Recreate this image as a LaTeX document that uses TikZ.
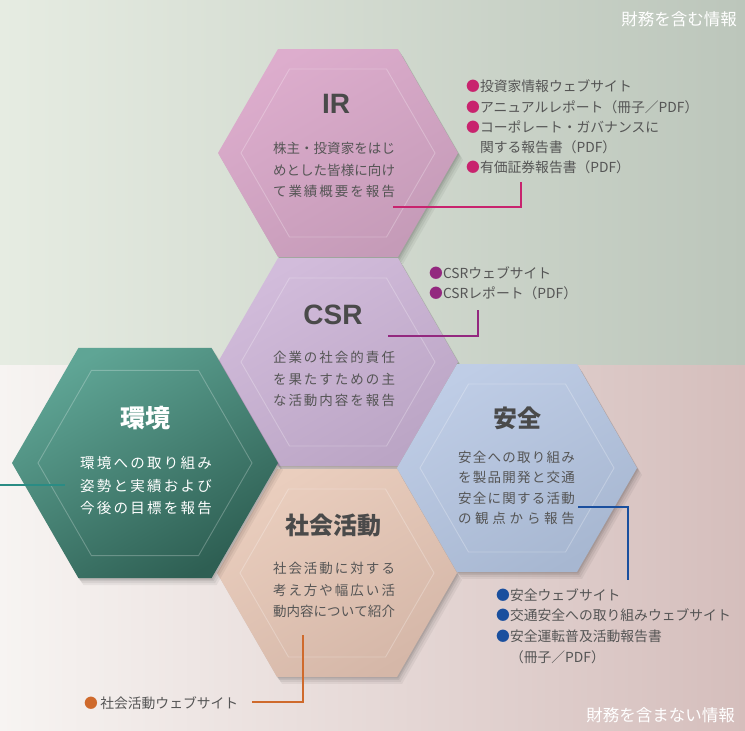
\documentclass[tikz,border=0pt]{standalone}
\usepackage{fontspec}
\setmainfont{Noto Sans CJK JP}
\newfontfamily\latinb{Liberation Sans}
\usetikzlibrary{shapes.geometric}
\definecolor{ttxt}{HTML}{4A4A4A}
\definecolor{dtxt}{HTML}{555555}
\definecolor{irA}{HTML}{DDADCD}
\definecolor{irB}{HTML}{C59BB8}
\definecolor{csrA}{HTML}{D2BCDB}
\definecolor{csrB}{HTML}{BBA5C5}
\definecolor{envA}{HTML}{5FA595}
\definecolor{envB}{HTML}{2E5F53}
\definecolor{safA}{HTML}{BFCDE6}
\definecolor{safB}{HTML}{A7B7D1}
\definecolor{socA}{HTML}{EACEBE}
\definecolor{socB}{HTML}{D5B7A8}
\definecolor{irM}{HTML}{C8236E}
\definecolor{csrM}{HTML}{93287F}
\definecolor{safM}{HTML}{1A4F9E}
\definecolor{socM}{HTML}{CF6A2C}
\definecolor{envM}{HTML}{2A8C84}
\definecolor{bgTL}{HTML}{E6ECE2}
\definecolor{bgTR}{HTML}{BCC6BB}
\definecolor{bgBL}{HTML}{F7F4F2}
\definecolor{bgBR}{HTML}{D5BEBC}
\makeatletter
\def\jl#1#2{\makebox[#1][s]{\jl@a#2\relax}}
\def\jl@a#1{#1\jl@b}
\def\jl@b#1{\ifx\relax#1\else\hfil#1\expandafter\jl@b\fi}
\makeatother
\begin{document}
\begin{tikzpicture}[x=1pt,y=-1pt,
  hexa/.style={regular polygon, regular polygon sides=6, inner sep=0pt, outer sep=0pt, draw=none},
  hexsh/.style={
    preaction={fill=black, fill opacity=0.05, transform canvas={xshift=5pt,yshift=-7pt}},
    preaction={fill=black, fill opacity=0.06, transform canvas={xshift=3.5pt,yshift=-5pt}},
    preaction={fill=black, fill opacity=0.07, transform canvas={xshift=2pt,yshift=-3pt}},
    preaction={fill=black, fill opacity=0.08, transform canvas={xshift=1pt,yshift=-1.5pt}}},
  hexin/.style={hexa, draw=white, draw opacity=0.25, line width=0.9pt, fill=none},
  ttl/.style={inner sep=0pt, text=ttxt, font=\bfseries\fontsize{24}{24}\selectfont},
  lttl/.style={inner sep=0pt, text=ttxt, font=\latinb\bfseries\fontsize{28}{28}\selectfont},
  desc/.style={inner sep=0pt, align=center, text=dtxt, font=\fontsize{13.5}{21.5}\selectfont},
  lst/.style={anchor=west, inner sep=0pt, text=dtxt, font=\fontsize{13.8}{13.8}\selectfont},
  conn/.style={line width=1.2pt},
  corner/.style={inner sep=0pt, anchor=east, text=white, font=\fontsize{16.5}{16.5}\selectfont}
]
\useasboundingbox (0,0) rectangle (745,731);
% background
\fill[left color=bgTL, right color=bgTR] (0,0) rectangle (745,365);
\fill[left color=bgBL, right color=bgBR] (0,365) rectangle (745,731);
\node[corner] (topL) at (737,19) {財務を含む情報};
\node[corner] (botL) at (735,715) {財務を含まない情報};

% hexagons
\node[hexa, hexsh, minimum size=240pt, top color=irA, bottom color=irB, shading angle=30] (IR) at (338,153) {};
\node[hexin, minimum size=194pt] (IRi) at (338,153) {};
\node[hexa, hexsh, minimum size=240pt, top color=csrA, bottom color=csrB, shading angle=30] (CSR) at (338,362) {};
\node[hexin, minimum size=194pt] (CSRi) at (338,362) {};
\node[hexa, hexsh, minimum size=240pt, top color=socA, bottom color=socB, shading angle=30] (SOC) at (337,573) {};
\node[hexin, minimum size=194pt] (SOCi) at (337,573) {};
\node[hexa, hexsh, minimum size=240pt, top color=safA, bottom color=safB, shading angle=30] (SAF) at (517,468) {};
\node[hexin, minimum size=194pt] (SAFi) at (517,468) {};
\node[hexa, hexsh, minimum size=266pt, top color=envA, bottom color=envB, shading angle=30] (ENV) at (145,463) {};
\node[hexin, minimum size=214pt] (ENVi) at (145,463) {};

% titles
\node[lttl] (IRt) at (336,104) {IR};
\node[lttl] (CSRt) at (333,315) {CSR};
\node[ttl, text=white, font=\bfseries\fontsize{25}{25}\selectfont] (ENVt) at (145,418) {環境};
\node[ttl] (SAFt) at (517,418) {安全};
\node[ttl] (SOCt) at (333,525) {社会活動};

% descriptions
\node[desc] (IRd) at (334,170) {\jl{122pt}{株主・投資家をはじ}\\\jl{122pt}{めとした皆様に向け}\\\jl{122pt}{て業績概要を報告}};
\node[desc] (CSRd) at (334,379) {\jl{122pt}{企業の社会的責任}\\\jl{122pt}{を果たすための主}\\\jl{122pt}{な活動内容を報告}};
\node[desc, text=white, font=\fontsize{14.5}{22.5}\selectfont] (ENVd) at (146,486) {\jl{132pt}{環境への取り組み}\\\jl{132pt}{姿勢と実績および}\\\jl{132pt}{今後の目標を報告}};
\node[desc, font=\fontsize{13.5}{20.5}\selectfont] (SAFd) at (516.5,488) {\jl{117pt}{安全への取り組み}\\\jl{117pt}{を製品開発と交通}\\\jl{117pt}{安全に関する活動}\\\jl{117pt}{の観点から報告}};
\node[desc] (SOCd) at (334,590) {\jl{122pt}{社会活動に対する}\\\jl{122pt}{考え方や幅広い活}\\\jl{122pt}{動内容について紹介}};

% lists
\node[lst] (ir1) at (466,86) {{\color{irM}●}投資家情報ウェブサイト};
\node[lst] (ir2) at (466,107) {{\color{irM}●}アニュアルレポート（冊子／PDF）};
\node[lst] (ir3) at (466,127.5) {{\color{irM}●}コーポレート・ガバナンスに};
\node[lst] (ir4) at (466,147.5) {\phantom{●}関する報告書（PDF）};
\node[lst] (ir5) at (466,167.5) {{\color{irM}●}有価証券報告書（PDF）};
\node[lst] (csr1) at (429,273) {{\color{csrM}●}CSRウェブサイト};
\node[lst] (csr2) at (429,293) {{\color{csrM}●}CSRレポート（PDF）};
\node[lst] (saf1) at (496,595) {{\color{safM}●}安全ウェブサイト};
\node[lst] (saf2) at (496,615.5) {{\color{safM}●}交通安全への取り組みウェブサイト};
\node[lst] (saf3) at (496,636.5) {{\color{safM}●}安全運転普及活動報告書};
\node[lst] (saf4) at (496,657) {\phantom{●}（冊子／PDF）};
\node[lst] (soc1) at (84,703) {{\color{socM}●}\,社会活動ウェブサイト};

% connectors
\coordinate (irA1) at (393,207);
\coordinate (irA2) at (521,182);
\draw[conn, irM] (irA1) -| (irA2);
\coordinate (csrA1) at (388,336);
\coordinate (csrA2) at (478,310);
\draw[conn, csrM] (csrA1) -| (csrA2);
\coordinate (safA1) at (578,507);
\coordinate (safA2) at (628,580);
\draw[conn, safM] (safA1) -| (safA2);
\coordinate (socA1) at (303,635);
\coordinate (socA2) at (252,702);
\draw[conn, socM] (socA1) |- (socA2);
\coordinate (envA1) at (0,485);
\coordinate (envA2) at (65,485);
\draw[conn, envM] (envA1) -- (envA2);
\end{tikzpicture}
\end{document}
